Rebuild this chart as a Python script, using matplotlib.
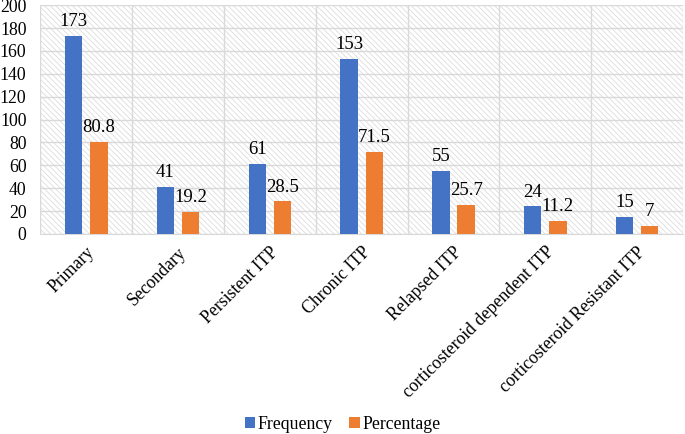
import matplotlib
matplotlib.use("Agg")
import matplotlib.pyplot as plt
import numpy as np
from matplotlib.patches import Rectangle

categories = ["Primary", "Secondary", "Persistent ITP", "Chronic ITP", "Relapsed ITP",
              "corticosteroid dependent ITP", "corticosteroid Resistant ITP"]
frequency = [173, 41, 61, 153, 55, 24, 15]
percentage = [80.8, 19.2, 28.5, 71.5, 25.7, 11.2, 7]
freq_labels = ["173", "41", "61", "153", "55", "24", "15"]
pct_labels = ["80.8", "19.2", "28.5", "71.5", "25.7", "11.2", "7"]
yticks = [0, 20, 40, 60, 80, 100, 120, 140, 160, 180, 200]

plt.rcParams['font.family'] = ['Liberation Serif', 'DejaVu Serif']
plt.rcParams['hatch.linewidth'] = 0.5
plt.rcParams['hatch.color'] = '#d6d6d6'

fig = plt.figure(figsize=(6.85, 4.34), dpi=100)
ax = fig.add_axes([0.059, 0.461, 0.938, 0.527])

x = np.arange(len(categories))
w = 0.19
gap = 0.085
blue = '#4472C4'
orange = '#ED7D31'

ax.add_patch(Rectangle((-0.5, 0), len(categories), 200, facecolor='white',
                       edgecolor='#d6d6d6', hatch='\\\\\\\\\\\\', linewidth=0, zorder=0))

b1 = ax.bar(x - (w + gap) / 2, frequency, w, color=blue, label='Frequency', zorder=3)
b2 = ax.bar(x + (w + gap) / 2, percentage, w, color=orange, label='Percentage', zorder=3)

for xi, v, t in zip(x - (w + gap) / 2, frequency, freq_labels):
    ax.text(xi, v + 5, t, ha='center', va='bottom', fontsize=13.5, zorder=4)
for xi, v, t in zip(x + (w + gap) / 2, percentage, pct_labels):
    ax.text(xi, v + 5, t, ha='center', va='bottom', fontsize=13.5, zorder=4)

ax.set_xlim(-0.5, len(categories) - 0.5)
ax.set_ylim(0, 200)
ax.set_yticks(yticks)
ax.set_yticklabels([str(t) for t in yticks], fontsize=12.8)
for yv in yticks:
    ax.axhline(yv, color='#d9d9d9', linewidth=1, zorder=1)
for xb in np.arange(-0.5, len(categories) + 0.5, 1):
    ax.axvline(xb, color='#d9d9d9', linewidth=1, zorder=1)

ax.set_xticks(x)
ax.set_xticklabels(categories, rotation=45, ha='right', rotation_mode='anchor', fontsize=12.8)
ax.tick_params(axis='x', length=0, pad=7)
ax.tick_params(axis='y', length=0, pad=10)
for s in ax.spines.values():
    s.set_visible(False)
ax.spines['bottom'].set_visible(True)
ax.spines['bottom'].set_color('#d9d9d9')

fig.legend(handles=[b1, b2], labels=['Frequency', 'Percentage'], loc='center',
           bbox_to_anchor=(0.5, 0.022), ncol=2, frameon=False, fontsize=12.8,
           handlelength=0.6, handleheight=0.6, handletextpad=0.15, columnspacing=0.9)

fig.savefig('out.png', dpi=100)
